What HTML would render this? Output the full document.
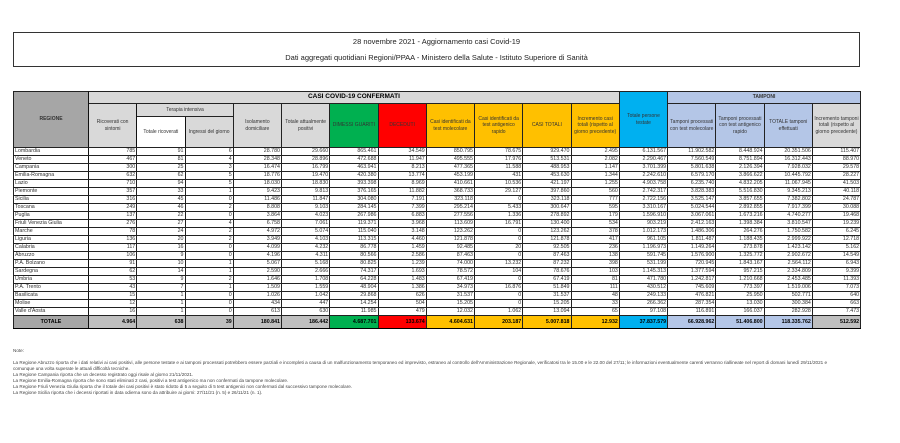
<!DOCTYPE html>
<html><head><meta charset="utf-8"><style>
body{margin:0;width:900px;height:443px;background:#fff;font-family:"Liberation Sans",sans-serif;position:relative;overflow:hidden}
.tbox{position:absolute;left:13px;top:32px;width:845px;height:33px;border:1.5px solid #333;text-align:center;font-size:7.5px;color:#222}
.tbox div{height:16px;line-height:17px}
table{position:absolute;left:13px;top:91px;width:847px;border-collapse:collapse;table-layout:fixed;font-size:5.3px;color:#333}
td{border:1px solid #222;padding:0 1px;overflow:hidden;white-space:nowrap;height:7.3px;line-height:7px;text-align:right;box-sizing:border-box}
td:first-child{text-align:left;border-right:1.5px solid #111}
.h td{text-align:center;white-space:normal;line-height:6.5px;background:#d9d9d9;font-size:5px}
.g{background:#d9d9d9}.rg{background:#a6a6a6 !important;font-weight:bold;text-align:center !important}
.gr{background:#00b050 !important}.rd{background:#ff0000 !important}.or{background:#ffc000 !important}.cy{background:#00b0f0 !important}.lb{background:#b4c6e7 !important}
.t td{background:#bfbfbf;font-weight:bold;color:#000;height:13px;border-top:1.5px solid #000;border-bottom:1.5px solid #000}
.notes{position:absolute;left:13px;top:348px;font-size:4.6px;color:#444;line-height:6px}
</style></head><body>
<div class="tbox"><div>28 novembre 2021 - Aggiornamento casi Covid-19</div><div>Dati aggregati quotidiani Regioni/PPAA - Ministero della Salute - Istituto Superiore di Sanità</div></div>
<table>
<colgroup><col style="width:75px"><col span="16" style="width:48.25px"></colgroup>
<tr class="h" style="height:12px"><td rowspan="3" class="rg" style="text-align:center">REGIONE</td><td colspan="11" style="font-weight:bold;font-size:6.5px;color:#000">CASI COVID-19 CONFERMATI</td><td rowspan="3" class="cy">Totale persone testate</td><td colspan="4" class="lb" style="font-weight:bold">TAMPONI</td></tr>
<tr class="h" style="height:13px"><td rowspan="2">Ricoverati con sintomi</td><td colspan="2">Terapia intensiva</td><td rowspan="2">Isolamento domiciliare</td><td rowspan="2">Totale attualmente positivi</td><td rowspan="2" class="gr">DIMESSI GUARITI</td><td rowspan="2" class="rd">DECEDUTI</td><td rowspan="2" class="or">Casi identificati da test molecolare</td><td rowspan="2" class="or">Casi identificati da test antigenico rapido</td><td rowspan="2" class="or">CASI TOTALI</td><td rowspan="2" class="or">Incremento casi totali (rispetto al giorno precedente)</td><td rowspan="2" class="lb">Tamponi processati con test molecolare</td><td rowspan="2" class="lb">Tamponi processati con test antigenico rapido</td><td rowspan="2" class="lb">TOTALE tamponi effettuati</td><td rowspan="2" class="g">Incremento tamponi totali (rispetto al giorno precedente)</td></tr>
<tr class="h" style="height:31px"><td style="background:#fff">Totale ricoverati</td><td>Ingressi del giorno</td></tr>
<tr><td>Lombardia</td><td>785</td><td>91</td><td>6</td><td>28.780</td><td>29.660</td><td>865.461</td><td>34.549</td><td>850.795</td><td>78.675</td><td>929.470</td><td>2.495</td><td>6.131.567</td><td>11.902.582</td><td>8.448.924</td><td>20.351.506</td><td>115.407</td></tr>
<tr><td>Veneto</td><td>467</td><td>81</td><td>4</td><td>28.348</td><td>28.896</td><td>472.688</td><td>11.947</td><td>495.555</td><td>17.976</td><td>513.531</td><td>2.082</td><td>2.290.467</td><td>7.560.549</td><td>8.751.894</td><td>16.312.443</td><td>88.970</td></tr>
<tr><td>Campania</td><td>300</td><td>25</td><td>3</td><td>16.474</td><td>16.799</td><td>463.941</td><td>8.213</td><td>477.365</td><td>11.588</td><td>488.953</td><td>1.147</td><td>3.701.399</td><td>5.801.638</td><td>2.126.394</td><td>7.928.032</td><td>29.578</td></tr>
<tr><td>Emilia-Romagna</td><td>632</td><td>62</td><td>5</td><td>18.776</td><td>19.470</td><td>420.380</td><td>13.774</td><td>453.199</td><td>431</td><td>453.630</td><td>1.344</td><td>2.242.610</td><td>6.579.170</td><td>3.866.622</td><td>10.445.792</td><td>28.227</td></tr>
<tr><td>Lazio</td><td>710</td><td>94</td><td>5</td><td>18.030</td><td>18.830</td><td>393.398</td><td>8.969</td><td>410.661</td><td>10.536</td><td>421.197</td><td>1.255</td><td>4.903.758</td><td>6.235.740</td><td>4.832.205</td><td>11.067.945</td><td>41.503</td></tr>
<tr><td>Piemonte</td><td>357</td><td>33</td><td>1</td><td>9.423</td><td>9.813</td><td>376.165</td><td>11.882</td><td>368.733</td><td>29.127</td><td>397.860</td><td>560</td><td>2.742.317</td><td>3.828.383</td><td>5.516.830</td><td>9.345.213</td><td>40.118</td></tr>
<tr><td>Sicilia</td><td>316</td><td>45</td><td>0</td><td>11.486</td><td>11.847</td><td>304.080</td><td>7.191</td><td>323.118</td><td>0</td><td>323.118</td><td>777</td><td>2.722.156</td><td>3.525.147</td><td>3.857.655</td><td>7.382.802</td><td>24.787</td></tr>
<tr><td>Toscana</td><td>249</td><td>46</td><td>2</td><td>8.808</td><td>9.103</td><td>284.145</td><td>7.399</td><td>295.214</td><td>5.433</td><td>300.647</td><td>595</td><td>3.310.167</td><td>5.024.544</td><td>2.892.855</td><td>7.917.399</td><td>30.088</td></tr>
<tr><td>Puglia</td><td>137</td><td>22</td><td>0</td><td>3.864</td><td>4.023</td><td>267.986</td><td>6.883</td><td>277.556</td><td>1.336</td><td>278.892</td><td>179</td><td>1.596.910</td><td>3.067.061</td><td>1.673.216</td><td>4.740.277</td><td>19.468</td></tr>
<tr><td>Friuli Venezia Giulia</td><td>276</td><td>27</td><td>4</td><td>6.758</td><td>7.061</td><td>119.371</td><td>3.968</td><td>113.609</td><td>16.791</td><td>130.400</td><td>534</td><td>903.219</td><td>2.412.163</td><td>1.398.384</td><td>3.810.547</td><td>19.239</td></tr>
<tr><td>Marche</td><td>78</td><td>24</td><td>2</td><td>4.972</td><td>5.074</td><td>115.040</td><td>3.148</td><td>123.262</td><td>0</td><td>123.262</td><td>378</td><td>1.012.173</td><td>1.486.306</td><td>264.276</td><td>1.750.582</td><td>6.245</td></tr>
<tr><td>Liguria</td><td>136</td><td>20</td><td>2</td><td>3.949</td><td>4.103</td><td>113.315</td><td>4.460</td><td>121.878</td><td>0</td><td>121.878</td><td>417</td><td>961.105</td><td>1.811.487</td><td>1.188.435</td><td>2.999.922</td><td>12.718</td></tr>
<tr><td>Calabria</td><td>117</td><td>16</td><td>0</td><td>4.099</td><td>4.232</td><td>86.778</td><td>1.459</td><td>92.485</td><td>20</td><td>92.505</td><td>236</td><td>1.196.973</td><td>1.149.264</td><td>273.878</td><td>1.423.142</td><td>5.162</td></tr>
<tr><td>Abruzzo</td><td>106</td><td>9</td><td>0</td><td>4.196</td><td>4.311</td><td>80.566</td><td>2.586</td><td>87.463</td><td>0</td><td>87.463</td><td>138</td><td>591.745</td><td>1.576.900</td><td>1.325.772</td><td>2.902.672</td><td>14.549</td></tr>
<tr><td>P.A. Bolzano</td><td>91</td><td>10</td><td>1</td><td>5.067</td><td>5.168</td><td>80.825</td><td>1.239</td><td>74.000</td><td>13.232</td><td>87.232</td><td>398</td><td>531.199</td><td>720.945</td><td>1.843.167</td><td>2.564.112</td><td>6.943</td></tr>
<tr><td>Sardegna</td><td>62</td><td>14</td><td>1</td><td>2.590</td><td>2.666</td><td>74.317</td><td>1.693</td><td>78.572</td><td>104</td><td>78.676</td><td>103</td><td>1.145.313</td><td>1.377.594</td><td>957.215</td><td>2.334.809</td><td>9.399</td></tr>
<tr><td>Umbria</td><td>53</td><td>9</td><td>2</td><td>1.646</td><td>1.708</td><td>64.228</td><td>1.483</td><td>67.419</td><td>0</td><td>67.419</td><td>81</td><td>471.780</td><td>1.242.817</td><td>1.210.668</td><td>2.453.485</td><td>11.393</td></tr>
<tr><td>P.A. Trento</td><td>43</td><td>7</td><td>1</td><td>1.509</td><td>1.559</td><td>48.904</td><td>1.386</td><td>34.973</td><td>16.876</td><td>51.849</td><td>111</td><td>430.512</td><td>745.609</td><td>773.397</td><td>1.519.006</td><td>7.073</td></tr>
<tr><td>Basilicata</td><td>15</td><td>1</td><td>0</td><td>1.026</td><td>1.042</td><td>29.868</td><td>626</td><td>31.537</td><td>0</td><td>31.537</td><td>48</td><td>249.133</td><td>476.821</td><td>25.950</td><td>502.771</td><td>640</td></tr>
<tr><td>Molise</td><td>12</td><td>1</td><td>0</td><td>434</td><td>447</td><td>14.254</td><td>504</td><td>15.205</td><td>0</td><td>15.205</td><td>33</td><td>266.362</td><td>287.354</td><td>13.030</td><td>300.384</td><td>663</td></tr>
<tr><td>Valle d'Aosta</td><td>16</td><td>1</td><td>0</td><td>613</td><td>630</td><td>11.985</td><td>479</td><td>12.032</td><td>1.062</td><td>13.094</td><td>65</td><td>97.108</td><td>116.891</td><td>166.037</td><td>282.928</td><td>7.473</td></tr>
<tr class="t"><td class="rg" style="text-align:center">TOTALE</td><td>4.964</td><td>638</td><td>39</td><td>180.841</td><td>186.442</td><td class="gr">4.687.701</td><td class="rd">133.674</td><td class="or">4.604.631</td><td class="or">203.187</td><td class="or">5.007.818</td><td class="or">12.932</td><td class="cy">37.837.579</td><td class="lb">66.928.962</td><td class="lb">51.406.800</td><td class="lb">118.335.762</td><td>512.592</td></tr>
</table>
<div class="notes">Note:<br><br>
La Regione Abruzzo riporta che i dati relativi ai casi positivi, alle persone testate e ai tamponi processati potrebbero essere parziali e incompleti a causa di un malfunzionamento temporaneo ed imprevisto, estraneo al controllo dell'Amministrazione Regionale, verificatosi tra le 15.00 e le 22.00 del 27/11; le informazioni eventualmente carenti verranno riallineate nel report di domani lunedì 29/11/2021 e<br>
comunque una volta superate le attuali difficoltà tecniche.<br>
La Regione Campania riporta che un decesso registrato oggi risale al giorno 21/11/2021.<br>
La Regione Emilia-Romagna riporta che sono stati eliminati 2 casi, positivi a test antigenico ma non confermati da tampone molecolare.<br>
La Regione Friuli Venezia Giulia riporta che il totale dei casi positivi è stato ridotto di 5 a seguito di 5 test antigenici non confermati dal successivo tampone molecolare.<br>
La Regione Sicilia riporta che i decessi riportati in data odierna sono da attribuire ai giorni: 27/11/21 (n. 5) e 26/11/21 (n. 1).</div>
</body></html>
